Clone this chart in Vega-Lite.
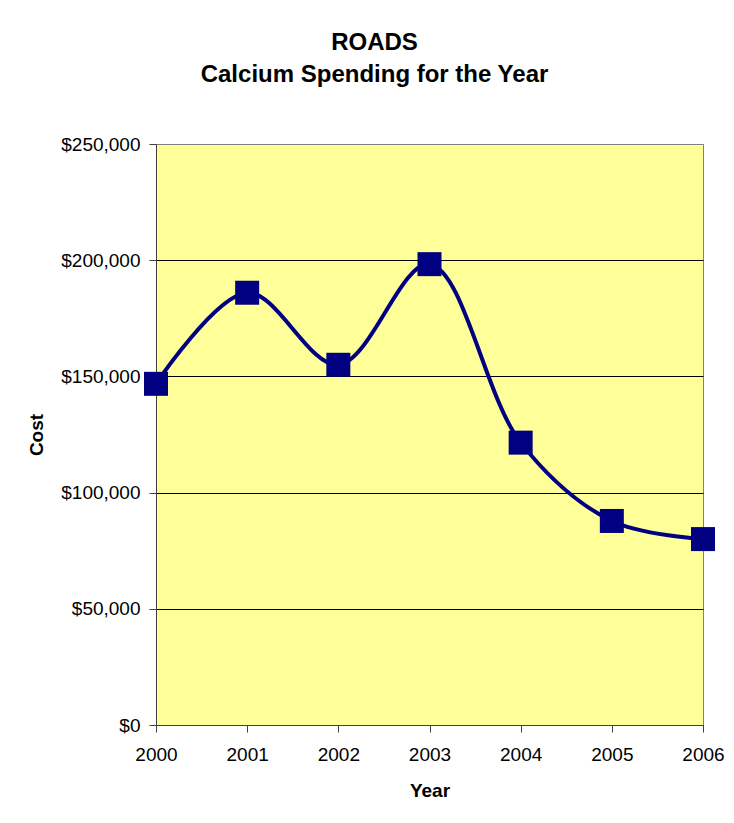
{
  "$schema": "https://vega.github.io/schema/vega-lite/v6.json",
  "width": 547,
  "height": 581,
  "autosize": {"type": "none"},
  "padding": {"left": 156, "top": 144, "right": 31, "bottom": 98},
  "background": "white",
  "title": {
    "text": ["ROADS", "Calcium Spending for the Year"],
    "font": "Liberation Sans",
    "fontSize": 24,
    "fontWeight": "bold",
    "color": "black",
    "anchor": "middle",
    "frame": "group",
    "dx": -55,
    "offset": 48,
    "lineHeight": 32
  },
  "data": {
    "values": [
      {"Year": 2000, "Cost": 146800},
      {"Year": 2001, "Cost": 186000},
      {"Year": 2002, "Cost": 155000},
      {"Year": 2003, "Cost": 198300},
      {"Year": 2004, "Cost": 121500},
      {"Year": 2005, "Cost": 87800},
      {"Year": 2006, "Cost": 80000}
    ]
  },
  "config": {
    "view": {"fill": "#FFFF99", "stroke": "#808080", "strokeWidth": 1},
    "axis": {
      "labelFont": "Liberation Sans",
      "labelFontSize": 19,
      "labelColor": "black",
      "titleFont": "Liberation Sans",
      "titleFontSize": 19,
      "titleFontWeight": "bold",
      "titleColor": "black",
      "domainColor": "#404040",
      "tickColor": "#404040",
      "tickSize": 7
    }
  },
  "encoding": {
    "x": {
      "field": "Year",
      "type": "quantitative",
      "scale": {"domain": [2000, 2006], "nice": false, "zero": false},
      "axis": {
        "values": [2000, 2001, 2002, 2003, 2004, 2005, 2006],
        "format": "d",
        "grid": false,
        "labelPadding": 13,
        "titlePadding": 17,
        "labelFlush": false
      }
    },
    "y": {
      "field": "Cost",
      "type": "quantitative",
      "scale": {"domain": [0, 250000], "nice": false},
      "axis": {
        "values": [0, 50000, 100000, 150000, 200000, 250000],
        "format": "$,.0f",
        "grid": true,
        "gridColor": {"condition": {"test": "datum.value == 250000", "value": "#808080"}, "value": "black"},
        "gridWidth": 1,
        "labelPadding": 9,
        "titlePadding": 14
      }
    }
  },
  "layer": [
    {
      "mark": {"type": "line", "interpolate": "catmull-rom", "color": "#000080", "strokeWidth": 4}
    },
    {
      "mark": {"type": "point", "shape": "square", "filled": true, "size": 576, "color": "#000080", "opacity": 1}
    }
  ]
}
